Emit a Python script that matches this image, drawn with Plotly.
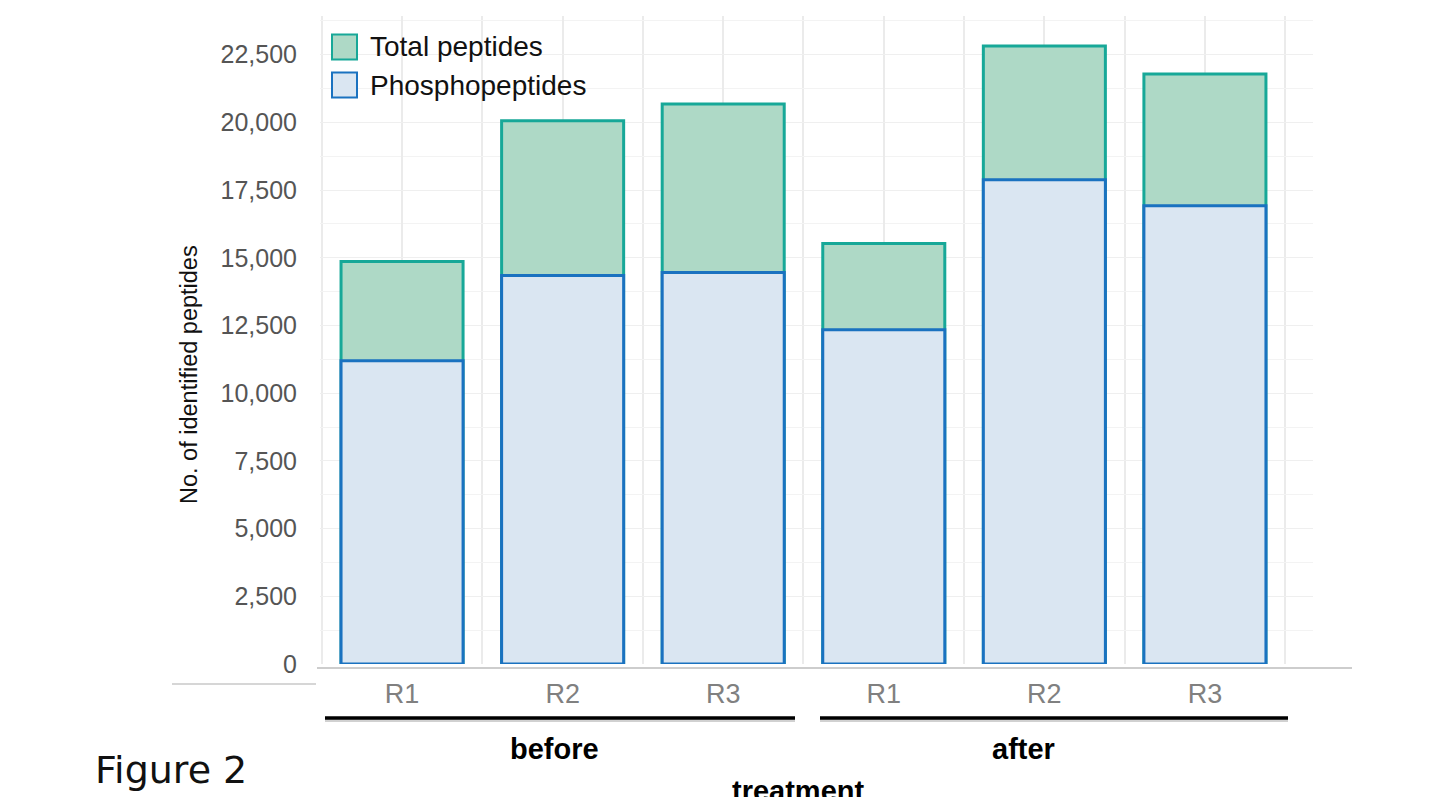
import plotly.graph_objects as go

# ---- data ----
replicates = ["R1", "R2", "R3", "R1", "R2", "R3"]
groups = ["before", "after"]
total_peptides = [14860, 20060, 20680, 15530, 22820, 21790]
phosphopeptides = [11200, 14350, 14460, 12340, 17880, 16920]
y_ticks = [0, 2500, 5000, 7500, 10000, 12500, 15000, 17500, 20000, 22500]

xpos = list(range(len(replicates)))

W, H = 1451, 797
L, R, T, B = 320, 138, 16, 133
PW, PH = W - L - R, H - T - B


def px(x):
    return (x - L) / PW


def py(y):
    return (H - B - y) / PH


fig = go.Figure()
fig.add_bar(x=xpos, y=total_peptides, name="Total peptides", width=0.76,
            marker=dict(color="#aed9c6", line=dict(color="#17a898", width=3)),
            showlegend=False)
fig.add_bar(x=xpos, y=phosphopeptides, name="Phosphopeptides", width=0.76,
            marker=dict(color="#dae6f2", line=dict(color="#1a72c0", width=3)),
            showlegend=False)

FONT = "Liberation Sans, Arial, sans-serif"

shapes = []
annotations = []

# custom legend
legend_items = [("Total peptides", "#aed9c6", "#17a898", 47),
                ("Phosphopeptides", "#dae6f2", "#1a72c0", 85)]
for name, fill, line, cy in legend_items:
    shapes.append(dict(type="rect", xref="paper", yref="paper",
                       x0=px(332), x1=px(357), y0=py(cy - 12.5), y1=py(cy + 12.5),
                       fillcolor=fill, line=dict(color=line, width=2)))
    annotations.append(dict(text=name, xref="paper", yref="paper", x=px(368), y=py(cy),
                            xanchor="left", yanchor="middle", showarrow=False,
                            font=dict(family=FONT, size=28, color="#111111")))

# axis baseline artefacts
shapes.append(dict(type="line", xref="paper", yref="paper", x0=px(317), x1=px(1352),
                   y0=py(668), y1=py(668), line=dict(color="#bdbdbd", width=1.5)))
shapes.append(dict(type="line", xref="paper", yref="paper", x0=px(172), x1=px(316),
                   y0=py(684), y1=py(684), line=dict(color="#c8c8c8", width=1.5)))

# group underline bars
for (x0, x1) in [(325, 795), (820, 1288)]:
    shapes.append(dict(type="line", xref="paper", yref="paper", x0=px(x0), x1=px(x1),
                       y0=py(720.5), y1=py(720.5), line=dict(color="rgba(0,0,0,0.18)", width=3)))
    shapes.append(dict(type="line", xref="paper", yref="paper", x0=px(x0), x1=px(x1),
                       y0=py(718), y1=py(718), line=dict(color="#000000", width=3.5)))

# group labels
for g, cx in zip(groups, [554, 1023]):
    annotations.append(dict(text="<b>%s</b>" % g, xref="paper", yref="paper", x=px(cx), y=py(749),
                            xanchor="center", yanchor="middle", showarrow=False,
                            font=dict(family=FONT, size=29, color="#000000")))

annotations.append(dict(text="<b>treatment</b>", xref="paper", yref="paper", x=px(798), y=py(773),
                        xanchor="center", yanchor="top", showarrow=False,
                        font=dict(family=FONT, size=29, color="#000000")))

annotations.append(dict(text="Figure 2", xref="paper", yref="paper", x=px(93), y=py(770),
                        xanchor="left", yanchor="middle", showarrow=False,
                        font=dict(family="DejaVu Sans, Verdana, sans-serif", size=38, color="#111111")))

annotations.append(dict(text="No. of identified peptides", xref="paper", yref="paper",
                        x=px(189), y=py(375), textangle=-90, xanchor="center", yanchor="middle",
                        showarrow=False, font=dict(family=FONT, size=23.5, color="#111111")))

fig.update_layout(
    width=W, height=H,
    margin=dict(l=L, r=R, t=T, b=B, pad=0),
    barmode="overlay",
    plot_bgcolor="white", paper_bgcolor="white",
    shapes=shapes, annotations=annotations,
    showlegend=False,
)

fig.update_xaxes(
    range=[-0.511, 5.673],
    tickmode="array", tickvals=xpos, ticktext=replicates,
    showgrid=True, gridcolor="#ebebeb", gridwidth=1.5,
    minor=dict(tickmode="array", tickvals=[i - 0.5 for i in range(len(replicates) + 1)],
               showgrid=True, gridcolor="#ebebeb", gridwidth=1.5),
    showline=False, zeroline=False, ticks="",
    tickfont=dict(family=FONT, size=27, color="#808080"),
    ticklabelstandoff=11,
)

fig.update_yaxes(
    range=[0, 23930],
    tickmode="array", tickvals=y_ticks, ticktext=["{:,}".format(v) for v in y_ticks],
    showgrid=True, gridcolor="#efefef", gridwidth=1.2,
    minor=dict(dtick=1250, showgrid=True, gridcolor="#f3f3f3", gridwidth=1.2),
    zeroline=False, showline=False, ticks="",
    tickfont=dict(family=FONT, size=25, color="#555555"),
    ticklabelstandoff=22,
)

fig.write_html("out.html", config={"displayModeBar": False},
               post_script="document.body.style.margin='0';document.body.style.overflow='hidden';")
